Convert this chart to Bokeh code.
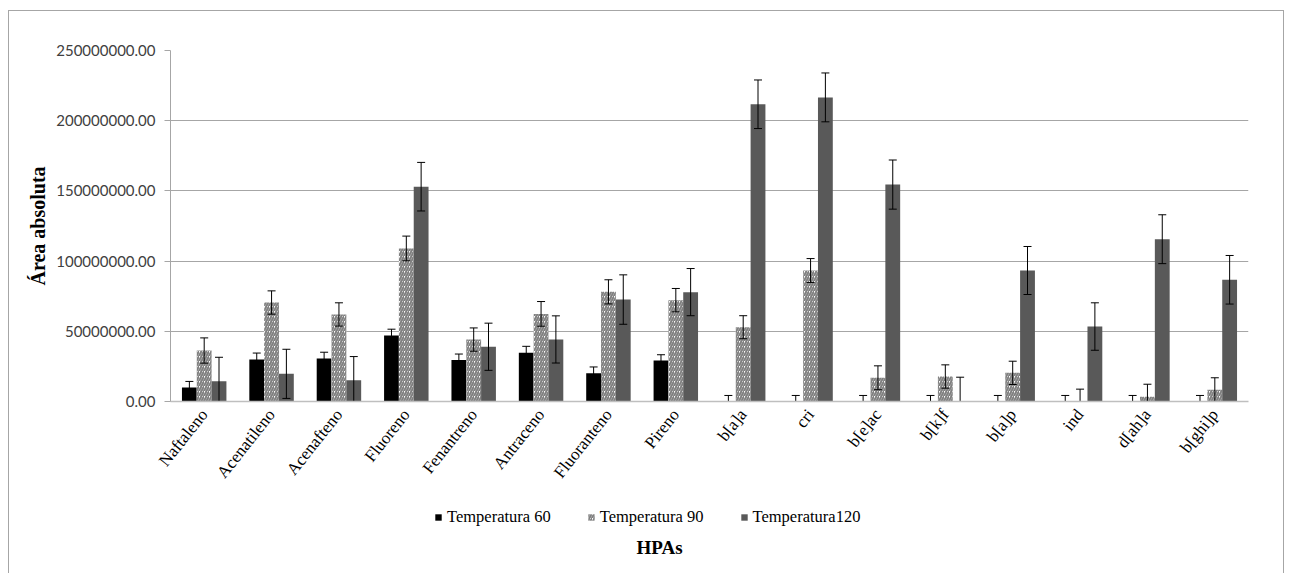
from bokeh.plotting import figure
from bokeh.layouts import column
from bokeh.models import (ColumnDataSource, FactorRange, Range1d, FixedTicker,
                          NumeralTickFormatter, Legend, LegendItem, Label)
from bokeh.transform import dodge
from bokeh.embed import file_html
from bokeh.resources import INLINE
import numpy as np

# PAH compounds on the category axis
compounds = ["Naftaleno", "Acenatileno", "Acenafteno", "Fluoreno", "Fenantreno",
             "Antraceno", "Fluoranteno", "Pireno", "b[a]a", "cri", "b[e]ac",
             "b[k]f", "b[a]p", "ind", "d[ah]a", "b[ghi]p"]

# Absolute peak area (millions) and error per temperature
temp60 = [10.0, 29.9, 30.6, 47.0, 29.6, 34.8, 20.2, 29.2, 0, 0, 0, 0, 0, 0, 0, 0]
err60 = [4.3, 4.6, 4.5, 4.5, 4.2, 4.5, 4.4, 4.1, 4.3, 4.3, 4.3, 4.3, 4.3, 4.3, 4.3, 4.3]

temp90 = [36.3, 70.5, 62.0, 109.0, 44.1, 62.4, 78.1, 72.2, 52.9, 93.3, 16.9, 17.8,
          20.4, 0, 3.4, 8.3]
err90 = [9.0, 8.3, 8.3, 8.8, 8.3, 8.8, 8.6, 8.3, 8.2, 8.5, 8.5, 8.3, 8.3, 8.8, 8.9, 8.6]

temp120 = [14.4, 19.7, 15.2, 153.0, 39.0, 44.2, 72.6, 77.9, 211.7, 216.6, 154.5, 0,
           93.3, 53.4, 115.6, 86.7]
err120 = [17.1, 17.5, 16.8, 17.3, 16.8, 16.8, 17.6, 16.8, 17.3, 17.4, 17.5, 17.3,
          17.1, 16.9, 17.4, 17.3]

series_names = ["Temperatura 60", "Temperatura 90", "Temperatura120"]
y_ticks = [0, 50e6, 100e6, 150e6, 200e6, 250e6]

SERIF = "Liberation Serif"
BORDER = "1px solid #a6a6a6"

styles = [
    dict(fill_color="#000000", line_color=None),
    dict(fill_color="white", line_color=None, hatch_pattern="/",
         hatch_color="#808080", hatch_weight=2, hatch_scale=5),
    dict(fill_color="#595959", line_color=None),
]
offsets = [-0.22, 0.0, 0.22]
bar_w = 0.22

# ---- main chart ----
p = figure(x_range=FactorRange(factors=compounds, range_padding=0),
           y_range=Range1d(0, 250e6),
           width=1276, height=490,
           output_backend="svg", toolbar_location=None,
           min_border_left=161, min_border_right=37, min_border_top=39,
           min_border_bottom=100)
p.styles = {"border-top": BORDER, "border-left": BORDER, "border-right": BORDER}
p.outline_line_color = None
p.background_fill_color = "white"
p.border_fill_color = "white"

p.xgrid.grid_line_color = None
p.ygrid.grid_line_color = "#a6a6a6"
p.ygrid.grid_line_width = 1

def make_source(vals, errs):
    v = np.array(vals) * 1e6
    e = np.array(errs) * 1e6
    return ColumnDataSource(dict(cat=compounds, top=v, upper=v + e, lower=v - e))

for vals, errs, st, off in zip([temp60, temp90, temp120], [err60, err90, err120],
                               styles, offsets):
    src = make_source(vals, errs)
    xpos = dodge("cat", off, range=p.x_range)
    p.vbar(x=xpos, top="top", bottom=0, width=bar_w, source=src, **st)
    # error bars: stem plus caps
    p.segment(x0=xpos, y0="lower", x1=xpos, y1="upper", source=src,
              line_color="#000000", line_width=1)
    p.scatter(x=xpos, y="upper", marker="dash", size=8, source=src,
              line_color="#000000", line_width=1)
    p.scatter(x=xpos, y="lower", marker="dash", size=8, source=src,
              line_color="#000000", line_width=1)

# y axis
ya = p.yaxis[0]
ya.ticker = FixedTicker(ticks=y_ticks)
ya.formatter = NumeralTickFormatter(format="0.00")
ya.axis_line_color = "#a6a6a6"
ya.major_tick_line_color = "#a6a6a6"
ya.major_tick_out = 6
ya.major_tick_in = 0
ya.minor_tick_line_color = None
ya.major_label_text_font = "Lato"
ya.major_label_text_font_size = "15px"
ya.major_label_text_color = "#404040"
ya.major_label_standoff = 9
ya.axis_label = "Área absoluta"
ya.axis_label_text_font = SERIF
ya.axis_label_text_font_style = "bold"
ya.axis_label_text_font_size = "20px"
ya.axis_label_text_color = "#000000"
ya.axis_label_standoff = 4

# x axis with compound names
xa = p.xaxis[0]
xa.axis_line_color = "#bfbfbf"
xa.axis_line_width = 1.5
xa.major_tick_line_color = None
xa.major_tick_out = 0
xa.major_tick_in = 0
xa.minor_tick_line_color = None
xa.major_label_orientation = 0.9
xa.major_label_text_font = SERIF
xa.major_label_text_font_size = "17px"
xa.major_label_text_color = "#000000"
xa.major_label_standoff = 10

# ---- legend strip with the axis title (frame aligned with the chart's frame) ----
q = figure(x_range=Range1d(0, 1), y_range=Range1d(0, 1), width=1276, height=73,
           output_backend="svg", toolbar_location=None,
           x_axis_type=None, y_axis_type=None,
           min_border_left=0, min_border_right=0, min_border_top=0,
           min_border_bottom=0)
q.styles = {"border-left": BORDER, "border-right": BORDER}
q.outline_line_color = None
q.xgrid.grid_line_color = None
q.ygrid.grid_line_color = None
q.background_fill_color = "white"
q.border_fill_color = "white"

# legend keys: zero-height bars parked outside the strip's range
key_renderers = []
for st in styles:
    key_src = ColumnDataSource(dict(x=[-10.0], top=[0.0]))
    key_renderers.append(q.vbar(x="x", top="top", width=0.1, source=key_src, **st))

legend = Legend(items=[LegendItem(label=n, renderers=[r])
                       for n, r in zip(series_names, key_renderers)],
                orientation="horizontal", location=(264, 46),
                label_text_font=SERIF, label_text_font_size="16.5px",
                label_text_color="#000000", label_height=20,
                glyph_width=8, glyph_height=8, label_standoff=5, spacing=36,
                padding=0, margin=0, border_line_color=None,
                background_fill_alpha=0)
q.add_layout(legend)

q.add_layout(Label(x=466, y=26, x_units="screen", y_units="screen", text="HPAs",
                   text_font=SERIF, text_font_style="bold", text_font_size="19px",
                   text_color="#000000", text_baseline="middle", text_align="left"))

layout = column(p, q, spacing=0, margin=(10, 0, 0, 8))

open("out.html", "w").write(file_html(layout, INLINE))
